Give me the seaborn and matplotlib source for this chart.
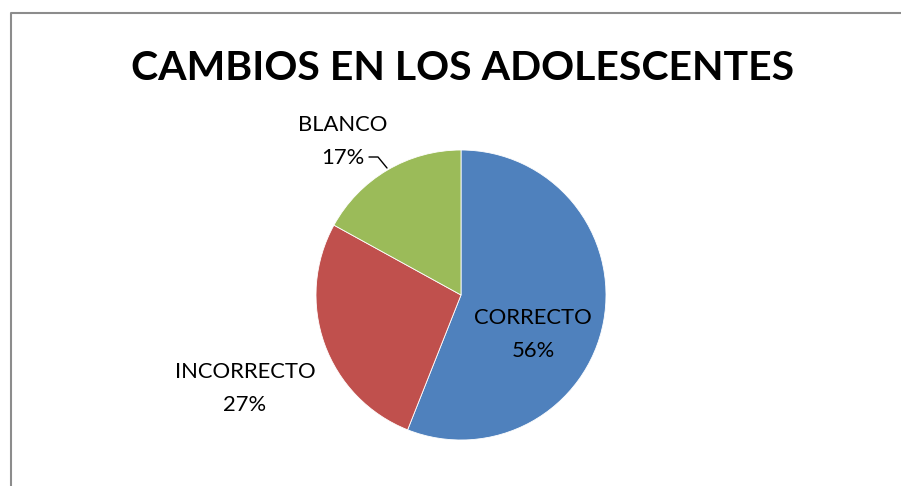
import matplotlib
matplotlib.use("Agg")
import matplotlib.pyplot as plt
import seaborn as sns
from matplotlib.lines import Line2D

categories = ["CORRECTO", "INCORRECTO", "BLANCO"]
values = [56, 27, 17]
colors = ["#4F81BD", "#C0504D", "#9BBB59"]
title = "CAMBIOS EN LOS ADOLESCENTES"

sns.set_theme(style="white")
plt.rcParams["font.family"] = ["Lato", "DejaVu Sans"]

W, H = 901, 486
fig = plt.figure(figsize=(W / 100, H / 100), dpi=100)
ax = fig.add_axes([0, 0, 1, 1])

palette = sns.color_palette(colors)
ax.pie(values, colors=palette, startangle=90, counterclock=False,
       center=(461, H - 295), radius=145, frame=True,
       wedgeprops=dict(linewidth=0.6, edgecolor="white"))
ax.set_xlim(0, W)
ax.set_ylim(0, H)
ax.axis("off")

total = sum(values)
pct = [f"{round(v * 100 / total)}%" for v in values]
# (x, y of category line, y of percent line) in pixel coords from top
label_pos = [(533, 318, 351), (245, 372, 405), (343, 125, 158)]
for cat, p, (x, y1, y2) in zip(categories, pct, label_pos):
    ax.text(x, H - y1, cat, ha="center", va="center", fontsize=15.8, color="black")
    ax.text(x, H - y2, p, ha="center", va="center", fontsize=15.8, color="black")

# leader line for BLANCO
ax.add_line(Line2D([369, 378, 387], [H - 157, H - 157, H - 168],
                   color="black", lw=1.0))

# chart border (left and top)
ax.add_line(Line2D([10.5, 10.5, W], [0, H - 13, H - 13], color="#8c8c8c", lw=1.5))

fig.text(463 / W, 1 - 68 / H, title, ha="center", va="center",
         fontsize=29.5, fontweight="bold", color="black")

fig.savefig("out.png", dpi=100)
